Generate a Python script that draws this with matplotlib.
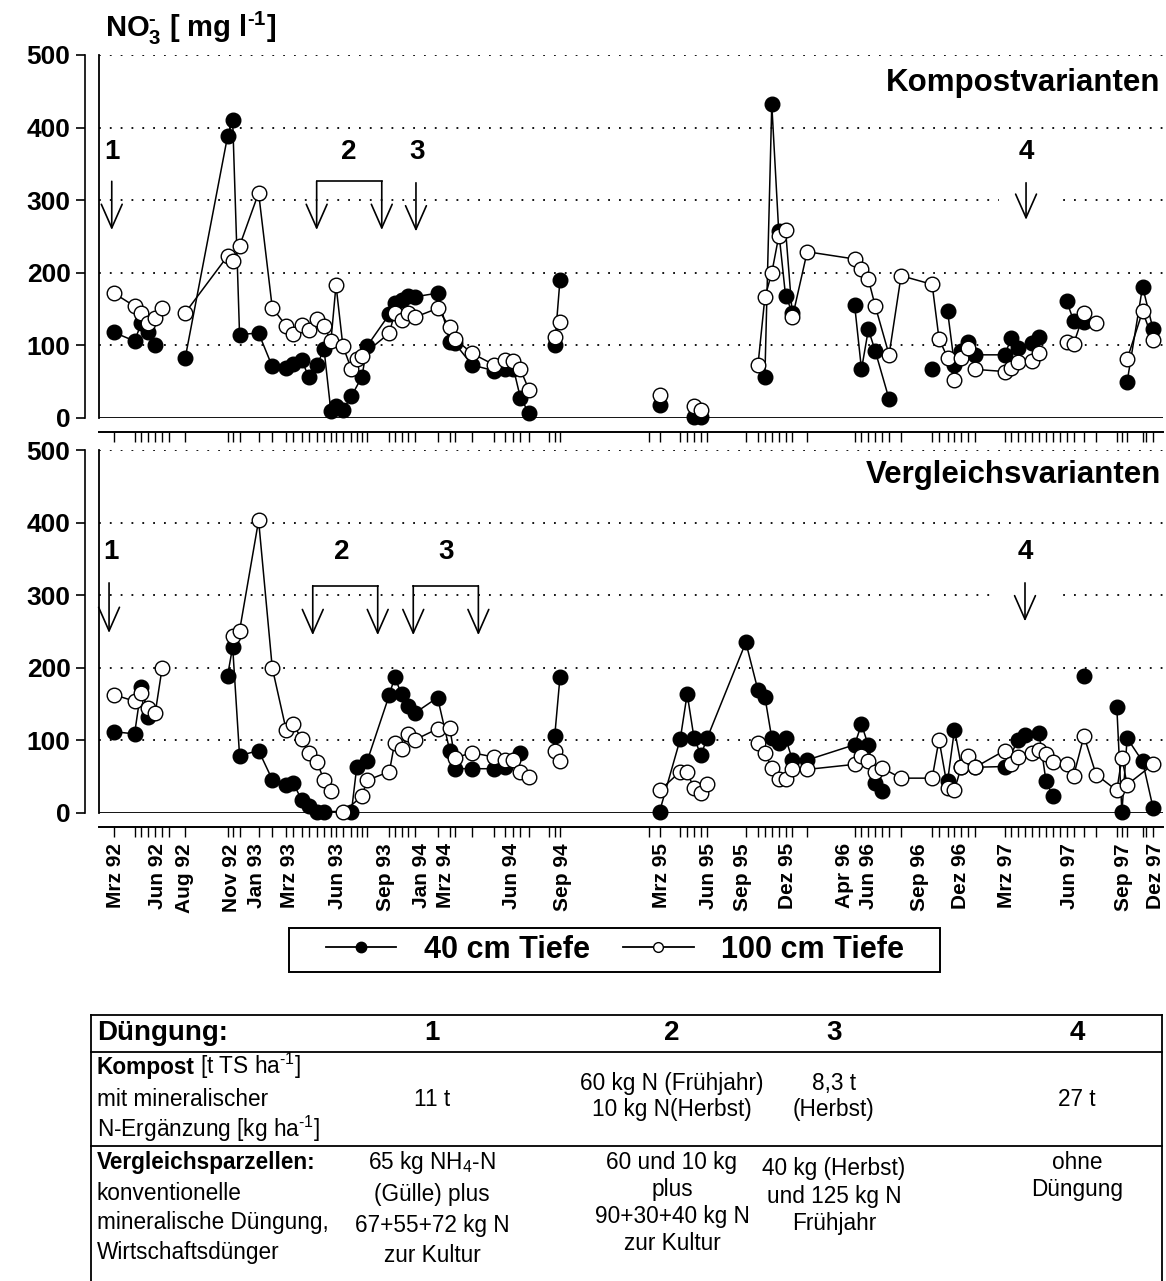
import numpy as np
import matplotlib
matplotlib.use("Agg")
import matplotlib.pyplot as plt
from matplotlib.lines import Line2D
from matplotlib.patches import Rectangle
from matplotlib.transforms import blended_transform_factory

plt.rcParams["font.family"] = ["Liberation Sans", "DejaVu Sans"]
plt.rcParams["mathtext.fontset"] = "custom"
plt.rcParams["mathtext.rm"] = "Liberation Sans"
plt.rcParams["mathtext.bf"] = "Liberation Sans:bold"
plt.rcParams["mathtext.default"] = "regular"

nan = np.nan
HY = "\u2010"  # short hyphen used in the superscripts

# Sampling dates in months counted from January 1992 (Mrz 92 = 2.0)
sample_months = [
    1.99, 3.37, 3.83, 4.29, 4.75, 5.21, 5.67, 6.75, 9.57, 9.91, 10.37, 11.64,
    12.55, 13.47, 13.93, 14.51, 14.97, 15.54, 16.00, 16.46, 16.80, 17.26, 17.83,
    18.18, 18.53, 18.87, 20.36, 20.71, 21.17, 21.63, 22.08, 23.57, 24.38, 24.72,
    25.87, 27.36, 28.05, 28.63, 29.09, 29.66, 31.03, 31.38, 31.73, 37.68, 38.37,
    39.75, 40.21, 40.67, 41.13, 41.54, 44.12, 44.93, 45.39, 45.85, 46.31, 46.77,
    47.23, 48.21, 51.37, 51.83, 52.29, 52.75, 53.21, 53.67, 54.47, 56.54, 57.00,
    57.57, 58.03, 58.49, 58.95, 59.41, 61.37, 61.83, 62.29, 62.75, 63.21, 63.67,
    64.13, 64.59, 65.05, 65.51, 65.97, 66.66, 67.47, 68.85, 69.19, 69.54, 70.57,
    70.81, 71.27,
]

month_labels = ["Mrz 92", "Jun 92", "Aug 92", "Nov 92", "Jan 93", "Mrz 93",
                "Jun 93", "Sep 93", "Jan 94", "Mrz 94", "Jun 94", "Sep 94",
                "Mrz 95", "Jun 95", "Sep 95", "Dez 95", "Apr 96", "Jun 96",
                "Sep 96", "Dez 96", "Mrz 97", "Jun 97", "Sep 97", "Dez 97"]
label_months = [2.13, 4.93, 6.73, 9.80, 11.47, 13.67, 16.93, 20.07, 22.53,
                24.13, 28.53, 31.87, 38.53, 41.60, 43.93, 46.93, 50.73, 52.33,
                55.67, 58.40, 61.47, 65.73, 69.27, 71.40]

# Kompostvarianten, 40 cm depth (nan = interruption of the series)
komp40_m = [1.99, 3.37, 3.83, 4.29, 4.75, nan,
            6.75, 9.57, 9.91, 10.37, 11.64, 12.55, 13.47, 13.93, 14.51, 14.97,
            15.54, 16.00, 16.46, 16.80, 17.26, 17.83, 18.53, 18.87, 20.36, 20.71,
            21.17, 21.63, 22.08, 23.57, 24.38, 24.72, 25.87, 27.36, 28.05, 28.63,
            29.09, 29.66, nan,
            31.38, 31.73, nan, 38.37, nan, 40.67, 41.13, nan,
            45.39, 45.85, 46.31, 46.77, 47.23, nan,
            51.37, 51.83, 52.29, 52.75, 53.67, nan, 56.54, nan,
            57.57, 58.03, 58.49, 58.95, 59.41, 61.37, 61.83, 62.29, 63.21, 63.67, nan,
            65.51, 65.97, 66.66, nan, 69.54, 70.57, 71.27]
komp40_v = [118, 106, 131, 119, 101, nan,
            83, 388, 411, 115, 117, 71, 69, 74, 80, 57,
            73, 95, 9, 17, 11, 30, 57, 99, 143, 158,
            163, 168, 167, 172, 105, 103, 73, 65, 67, 68,
            28, 7, nan,
            100, 190, nan, 18, nan, 1, 1, nan,
            57, 432, 258, 168, 145, nan,
            156, 67, 122, 92, 26, nan, 67, nan,
            147, 73, 92, 105, 87, 87, 110, 96, 103, 112, nan,
            161, 134, 132, nan, 50, 181, 122]

# Kompostvarianten, 100 cm depth
komp100_m = [1.99, 3.37, 3.83, 4.29, 4.75, 5.21, nan,
             6.75, 9.57, 9.91, 10.37, 11.64, 12.55, 13.47, 13.93, 14.51, 14.97,
             15.54, 16.00, 16.46, 16.80, 17.26, 17.83, 18.18, 18.53, 20.36, 20.71,
             21.17, 21.63, 22.08, 23.57, 24.38, 24.72, 25.87, 27.36, 28.05, 28.63,
             29.09, 29.66, nan,
             31.38, 31.73, nan, 38.37, nan, 40.67, 41.13, nan,
             44.93, 45.39, 45.85, 46.31, 46.77, 47.23, 48.21, 51.37, 51.83, 52.29,
             52.75, 53.67, 54.47, 56.54, 57.00, 57.57, 58.03, 58.49, 58.95, 59.41,
             61.37, 61.83, 62.29, 63.21, 63.67, nan,
             65.51, 65.97, 66.66, 67.47, nan, 69.54, 70.57, 71.27]
komp100_v = [172, 154, 144, 131, 138, 151, nan,
             145, 223, 216, 237, 310, 152, 127, 116, 128, 121,
             136, 127, 106, 183, 99, 67, 81, 86, 117, 145,
             135, 144, 139, 151, 125, 109, 89, 73, 80, 79,
             67, 39, nan,
             111, 132, nan, 31, nan, 16, 11, nan,
             73, 166, 200, 250, 259, 139, 229, 219, 205, 191,
             154, 87, 196, 184, 109, 83, 52, 83, 96, 67,
             64, 69, 77, 79, 89, nan,
             104, 102, 144, 131, nan, 81, 147, 107]

# Vergleichsvarianten, 40 cm depth
verg40_m = [1.99, 3.37, 3.83, 4.29, nan,
            9.57, 9.91, 10.37, 11.64, 12.55, 13.47, 13.93, 14.51, 14.97, 15.54,
            16.00, 17.83, 18.18, 18.87, 20.36, 20.71, 21.17, 21.63, 22.08, 23.57,
            24.38, 24.72, 25.87, 27.36, 28.05, 29.09, nan,
            31.38, 31.73, nan,
            38.37, 39.75, 40.21, 40.67, 41.13, 41.54, 44.12, 44.93, 45.39, 45.85,
            46.31, 46.77, 47.23, 48.21, 51.37, 51.83, 52.29, 52.75, 53.21, nan,
            57.57, 58.03, 58.49, 59.41, 61.37, 62.29, 62.75, 63.67, 64.13, 64.59, nan,
            66.66, nan, 68.85, 69.19, 69.54, 70.57, 71.27]
verg40_v = [112, 109, 174, 132, nan,
            189, 229, 79, 86, 46, 38, 42, 18, 9, 1,
            2, 2, 63, 71, 163, 187, 164, 148, 138, 159,
            86, 61, 61, 61, 64, 83, nan,
            106, 187, nan,
            2, 102, 164, 103, 80, 103, 235, 169, 160, 103,
            97, 103, 73, 73, 94, 122, 93, 42, 30, nan,
            44, 115, 64, 63, 64, 101, 108, 110, 44, 23, nan,
            189, nan, 146, 1, 103, 71, 7]

# Vergleichsvarianten, 100 cm depth
verg100_m = [1.99, 3.37, 3.83, 4.29, 4.75, 5.21, nan,
             9.91, 10.37, 11.64, 12.55, 13.47, 13.93, 14.51, 14.97, 15.54, 16.00,
             16.46, nan, 17.26, 18.53, 18.87, 20.36, 20.71, 21.17, 21.63, 22.08,
             23.57, 24.38, 24.72, 25.87, 27.36, 28.05, 28.63, 29.09, 29.66, nan,
             31.38, 31.73, nan,
             38.37, 39.75, 40.21, 40.67, 41.13, 41.54, nan,
             44.93, 45.39, 45.85, 46.31, 46.77, 47.23, 48.21, 51.37, 51.83, 52.29,
             52.75, 53.21, 54.47, 56.54, 57.00, 57.57, 58.03, 58.49, 58.95, 59.41,
             61.37, 61.83, 62.29, 63.21, 63.67, 64.13, 64.59, 65.51, 65.97, 66.66,
             67.47, 68.85, 69.19, 69.54, 71.27]
verg100_v = [163, 154, 165, 144, 138, 200, nan,
             244, 251, 403, 200, 115, 123, 102, 83, 70, 45,
             30, nan, 1, 23, 45, 57, 97, 88, 109, 101,
             116, 117, 76, 83, 77, 73, 73, 56, 50, nan,
             85, 71, nan,
             31, 57, 56, 34, 27, 40, nan,
             97, 83, 62, 47, 47, 61, 60, 67, 79, 71,
             57, 62, 48, 48, 101, 34, 32, 64, 78, 63,
             86, 67, 77, 83, 87, 81, 70, 68, 51, 106,
             53, 31, 76, 39, 67]

W, H = 1166, 1281
fig = plt.figure(figsize=(W / 100, H / 100), dpi=100)


def rect(x0, y0, x1, y1):
    return [x0 / W, 1 - y1 / H, (x1 - x0) / W, (y1 - y0) / H]


XLIM = (1.0, 71.93)
LW = 1.1


def setup_axes(ax):
    ax.set_xlim(*XLIM)
    ax.set_ylim(0, 500)
    ax.patch.set_visible(False)
    for s in ("top", "right"):
        ax.spines[s].set_visible(False)
    ax.spines["left"].set_position(("outward", 10))
    ax.spines["bottom"].set_position(("outward", 10))
    ax.spines["left"].set_linewidth(1.2)
    ax.spines["bottom"].set_linewidth(1.4)
    ax.set_yticks(range(0, 501, 100))
    ax.set_yticklabels([str(v) for v in range(0, 501, 100)],
                       fontsize=19, fontweight="bold")
    ax.tick_params(axis="y", length=6.5, width=1.2, pad=4)
    ax.set_xticks(sample_months)
    ax.set_xticklabels([])
    ax.tick_params(axis="x", length=7, width=1.0)
    for v in range(100, 501, 100):
        ax.axhline(v, color="k", lw=1.3, ls=(0, (1, 5)), zorder=1)
    ax.axhline(0, color="k", lw=1.3, zorder=2)
    ax.axvline(XLIM[0], color="k", lw=1.3, clip_on=False, zorder=2)


def draw_series(ax, m40, v40, m100, v100):
    ax.plot(m40, v40, "-o", color="k", lw=LW, ms=10.5, mfc="k", mec="k",
            mew=1.0, clip_on=False, zorder=3)
    ax.plot(m100, v100, "-o", color="k", lw=LW, ms=10.5, mfc="white", mec="k",
            mew=1.0, clip_on=False, zorder=4)


def arrow(ax, x, y_from, y_to):
    ax.annotate("", xy=(x, y_to), xytext=(x, y_from),
                arrowprops=dict(arrowstyle="->,head_length=1.7,head_width=0.75",
                                lw=1.2, color="k", shrinkA=0, shrinkB=0))


def bracket(ax, x1, x2, y_top, y_tip):
    ax.plot([x1, x2], [y_top, y_top], color="k", lw=1.2)
    arrow(ax, x1, y_top, y_tip)
    arrow(ax, x2, y_top, y_tip)


def clear_band(ax, x1, x2, y1, y2):
    ax.add_patch(Rectangle((x1, y1), x2 - x1, y2 - y1, facecolor="white",
                           edgecolor="none", zorder=1.5))


num_kw = dict(fontsize=20, fontweight="bold", ha="center", va="center")

ax_top = fig.add_axes(rect(99, 55, 1163, 418))
setup_axes(ax_top)
draw_series(ax_top, komp40_m, komp40_v, komp100_m, komp100_v)
ax_top.text(0.998, 0.923, "Kompostvarianten", transform=ax_top.transAxes,
            ha="right", va="center", fontsize=22.5, fontweight="bold")
ax_top.text(1.85, 367, "1", **num_kw)
arrow(ax_top, 1.85, 326, 259)
ax_top.text(17.62, 367, "2", **num_kw)
bracket(ax_top, 15.51, 19.85, 326, 259)
ax_top.text(22.18, 367, "3", **num_kw)
arrow(ax_top, 22.13, 324, 257)
ax_top.text(62.8, 367, "4", **num_kw)
clear_band(ax_top, 61.0, 65.27, 290, 310)
arrow(ax_top, 62.8, 324, 273)

ax_bot = fig.add_axes(rect(99, 450, 1163, 813))
setup_axes(ax_bot)
draw_series(ax_bot, verg40_m, verg40_v, verg100_m, verg100_v)
ax_bot.text(0.998, 0.931, "Vergleichsvarianten", transform=ax_bot.transAxes,
            ha="right", va="center", fontsize=22.5, fontweight="bold")
ax_bot.text(1.78, 360, "1", **num_kw)
arrow(ax_bot, 1.67, 317, 248)
ax_bot.text(17.18, 360, "2", **num_kw)
bracket(ax_bot, 15.25, 19.58, 313, 245)
ax_bot.text(24.13, 360, "3", **num_kw)
bracket(ax_bot, 21.95, 26.29, 313, 245)
ax_bot.text(62.73, 360, "4", **num_kw)
clear_band(ax_bot, 60.9, 65.2, 290, 310)
arrow(ax_bot, 62.73, 317, 264)

tr = blended_transform_factory(ax_bot.transData, ax_bot.transAxes)
for lab, m in zip(month_labels, label_months):
    ax_bot.text(m, -0.083, lab, transform=tr, rotation=90, ha="center",
                va="top", fontsize=15, fontweight="bold")

fig.text(105 / W, 1 - 28 / H, "NO$_3^{" + HY + "}$ [ mg l$^{" + HY + "1}$]",
         fontsize=21, fontweight="bold", ha="left", va="center")

# overlay axes in pixel coordinates for the legend box and the table
tab = fig.add_axes([0, 0, 1, 1], zorder=-1)
tab.set_xlim(0, W)
tab.set_ylim(H, 0)
tab.axis("off")

tab.add_patch(Rectangle((289, 928), 651, 44, facecolor="white",
                        edgecolor="k", lw=1.4))
h40 = Line2D([], [], color="k", lw=1.3, marker="o", ms=7.5, mfc="k", mec="k")
h100 = Line2D([], [], color="k", lw=1.3, marker="o", ms=7, mfc="white",
              mec="k")
fig.legend([h40, h100], ["40 cm Tiefe", "100 cm Tiefe"], ncol=2,
           loc="center", bbox_to_anchor=(615 / W, 1 - 950 / H),
           frameon=False, prop=dict(weight="bold", size=22),
           handlelength=2.3, handletextpad=0.9, columnspacing=1.1,
           borderpad=0.0)

for xs, ys in [([91, 1162], [1015, 1015]), ([91, 1162], [1052, 1052]),
               ([91, 1162], [1146, 1146]), ([91, 91], [1015, 1281]),
               ([1162, 1162], [1015, 1281])]:
    tab.plot(xs, ys, color="k", lw=1.3, solid_capstyle="projecting")

col_x = [432, 672, 834, 1077]
hdr = dict(fontsize=20, fontweight="bold", va="center")
tab.text(97, 1033, "Düngung:", ha="left", **hdr)
for cx, s in zip(col_x, ["1", "2", "3", "4"]):
    tab.text(cx, 1033, s, ha="center", **hdr)

sup = "$^{" + HY + "1}$"
txt = dict(fontsize=16.3, va="baseline")
fig.canvas.draw()
renderer = fig.canvas.get_renderer()
t_komp = tab.text(97, 1074, "Kompost", fontweight="bold", ha="left", **txt)
bb = t_komp.get_window_extent(renderer)
tab.text(97 + bb.width + 5, 1074, "[t TS ha" + sup + "]", ha="left", **txt)
tab.text(97, 1106, "mit mineralischer", ha="left", **txt)
tab.text(97, 1137, "N-Ergänzung [kg ha" + sup + "]", ha="left", **txt)

tab.text(97, 1169, "Vergleichsparzellen:", fontweight="bold", ha="left", **txt)
tab.text(97, 1200, "konventionelle", ha="left", **txt)
tab.text(97, 1229, "mineralische Düngung,", ha="left", **txt)
tab.text(97, 1259, "Wirtschaftsdünger", ha="left", **txt)

cells = [
    (col_x[0], [(1106, "11 t")]),
    (col_x[1], [(1090, "60 kg N (Frühjahr)"), (1116, "10 kg N(Herbst)")]),
    (col_x[2], [(1090, "8,3 t"), (1116, "(Herbst)")]),
    (col_x[3], [(1106, "27 t")]),
    (col_x[0], [(1169, "65 kg NH$_4$" + HY + "N"), (1201, "(Gülle) plus"),
                (1232, "67+55+72 kg N"), (1262, "zur Kultur")]),
    (col_x[1], [(1169, "60 und 10 kg"), (1196, "plus"),
                (1223, "90+30+40 kg N"), (1250, "zur Kultur")]),
    (col_x[2], [(1175, "40 kg (Herbst)"), (1203, "und 125 kg N"),
                (1230, "Frühjahr")]),
    (col_x[3], [(1169, "ohne"), (1196, "Düngung")]),
]
for cx, lines in cells:
    for y, s in lines:
        tab.text(cx, y, s, ha="center", **txt)

fig.savefig("out.png", dpi=100)
